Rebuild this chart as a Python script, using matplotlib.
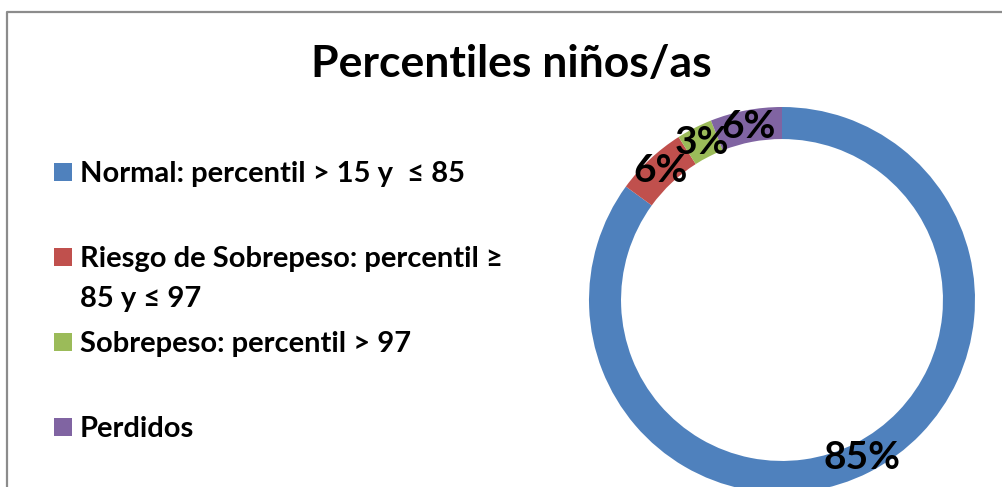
import numpy as np
import matplotlib
matplotlib.use('Agg')
import matplotlib.pyplot as plt
from matplotlib.lines import Line2D
from matplotlib.patches import Rectangle

plt.rcParams['font.family'] = ['Lato', 'DejaVu Sans']

title = 'Percentiles niños/as'
labels = ['Normal: percentil > 15 y  ≤ 85',
          'Riesgo de Sobrepeso: percentil ≥\n85 y ≤ 97',
          'Sobrepeso: percentil > 97',
          'Perdidos']
values = [85, 6, 3, 6]
colors = ['#4F81BD', '#C0504D', '#9BBB59', '#8064A2']

W, H = 1003, 487
fig = plt.figure(figsize=(W / 100, H / 100), dpi=100)


def fx(px):
    return px / W


def fy(py):
    return 1 - py / H


# frame (only left and top visible)
fig.add_artist(Line2D([fx(7), fx(7), fx(W)], [fy(H), fy(11.5), fy(11.5)],
                      color='#8c8c8c', lw=1.6, transform=fig.transFigure))

fig.text(fx(511), fy(64), title, ha='center', va='center',
         fontsize=32, fontweight='bold')

# donut
cx, cy, r = 782, 300, 193
ax = fig.add_axes([fx(cx - r), fy(cy + r), fx(2 * r), 2 * r / H])
wedges, texts, autotexts = ax.pie(
    values, colors=colors, startangle=90, counterclock=False,
    radius=1, pctdistance=0.917, autopct='%1.0f%%',
    wedgeprops=dict(width=0.166, linewidth=0),
    textprops=dict(fontsize=28, fontweight='bold', color='black'))
ax.set_xlim(-1, 1)
ax.set_ylim(-1, 1)
ax.set_aspect('equal')
ax.axis('off')

# legend
row0, step = 172, 85
for i, (lab, col) in enumerate(zip(labels, colors)):
    y = row0 + i * step
    fig.add_artist(Rectangle((fx(54), fy(y + 9)), fx(18), 18 / H,
                             facecolor=col, edgecolor='none',
                             transform=fig.transFigure))
    fig.text(fx(80), fy(y - 11), lab, ha='left', va='top',
             fontsize=21, fontweight='bold', linespacing=1.65)

fig.savefig('out.png', dpi=100)
